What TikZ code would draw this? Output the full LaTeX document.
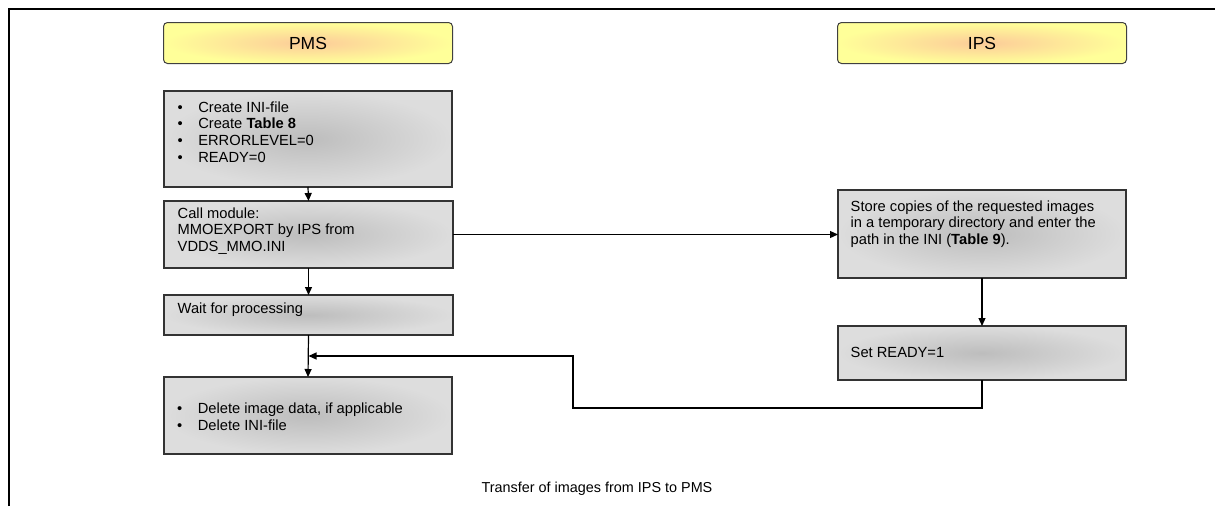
\documentclass[tikz,border=0pt]{standalone}
\usepackage{fontspec}
\setmainfont{Liberation Sans}
\usetikzlibrary{arrows.meta,calc}

\definecolor{headmid}{HTML}{FCCB99}
\definecolor{headedge}{HTML}{FFFF99}
\definecolor{boxmid}{HTML}{BDBDBD}
\definecolor{boxedge}{HTML}{DDDDDD}

% text lines stacked with the first baseline as reference
\newcommand\lines[1]{\begin{tabular}[t]{@{}l@{}}#1\end{tabular}}
\newcommand\bul{\makebox[20.8pt][l]{\textbullet}}

\begin{document}
\begin{tikzpicture}[x=1pt,y=-1pt,
  every node/.style={inner sep=0pt, outer sep=0pt},
  head/.style={draw=black!75, line width=1pt, rounded corners=4pt,
    inner color=headmid, outer color=headedge,
    minimum width=289pt, minimum height=41pt,
    font=\fontsize{17.5}{21}\selectfont},
  stepbox/.style={draw=black!80, line width=1.3pt,
    inner color=boxmid, outer color=boxedge, anchor=north west},
  txt/.style={anchor=base west, font=\fontsize{14.7}{16.7}\selectfont},
  arr/.style={line width=1.2pt, -{Triangle[length=8pt,width=7pt]}}]

\useasboundingbox (0,0) rectangle (1215,506);

% frame
\draw[line width=2.6pt] (9,506) -- (9,9) -- (1215,9);

% lane headers
\node[head] (pms) at (308,43) {PMS};
\node[head] (ips) at (982,43) {IPS};

% PMS side
\node[stepbox, minimum width=288pt, minimum height=96pt] (b1) at (164,91) {};
\node[stepbox, minimum width=289pt, minimum height=67pt] (b2) at (164,201) {};
\node[stepbox, minimum width=289pt, minimum height=40pt] (b3) at (164,295) {};
\node[stepbox, minimum width=288pt, minimum height=77pt] (b4) at (164,377) {};

\node[txt] (t1) at (177.5,112) {\lines{\bul Create INI-file\\ \bul Create \textbf{Table 8}\\ \bul ERRORLEVEL=0\\ \bul READY=0}};
\node[txt] (t2) at (177.7,218) {\lines{Call module:\\ MMOEXPORT by IPS from\\ VDDS\_MMO.INI}};
\node[txt] (t3) at (177.7,313) {Wait for processing};
\node[txt] (t4) at (177,413.5) {\lines{\bul Delete image data, if applicable\\ \bul Delete INI-file}};

% IPS side
\node[stepbox, minimum width=288pt, minimum height=88pt] (r1) at (838,190) {};
\node[stepbox, minimum width=288pt, minimum height=54pt] (r2) at (838,326) {};

\node[txt] (u1) at (850.7,211) {\lines{Store copies of the requested images\\ in a temporary directory and enter the\\ path in the INI (\textbf{Table 9}).}};
\node[txt] (u2) at (850.7,357) {Set READY=1};

% connectors
\coordinate (join) at (b3.south |- 0,356);
\coordinate (turn) at (573,408);
\draw[arr] (b1.south) -- (b2.north);
\draw[arr] (b2.south) -- (b3.north);
\draw[arr] (b3.south) -- (b4.north);
\draw[arr] (b2.east) -- (b2.east -| r1.west);
\draw[arr] (r1.south) -- (r2.north);
\draw[arr] (r2.south) |- (turn) |- (join);

% caption
\node[anchor=base, font=\fontsize{14.4}{16.7}\selectfont] (cap) at (597,492) {Transfer of images from IPS to PMS};
\end{tikzpicture}
\end{document}
